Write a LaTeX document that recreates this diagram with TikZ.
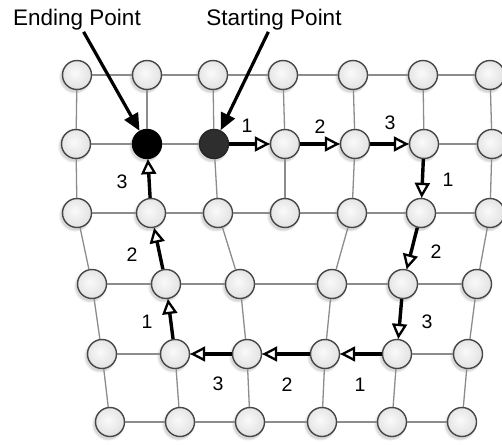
\documentclass[tikz,border=0pt]{standalone}
\usepackage{fontspec}
\setmainfont{Liberation Sans}
\usetikzlibrary{arrows.meta,shadows}
\pgfdeclareradialshading{ballgray}{\pgfpoint{-4bp}{4bp}}{color(0bp)=(gray!4); color(20bp)=(gray!18); color(44bp)=(gray!36); color(50bp)=(gray!40)}
\begin{document}
\begin{tikzpicture}[x=1pt,y=-1pt,
  nodebase/.style={circle, minimum size=29pt, inner sep=0pt, line width=1.4pt,
    circular drop shadow={shadow xshift=-1.8pt, shadow yshift=-1.8pt, shadow scale=1.15, opacity=0.3}},
  mesh/.style={nodebase, draw=black!72, shade, shading=ballgray},
  endpt/.style={nodebase, draw=black, fill=black},
  startpt/.style={nodebase, draw=black!85, fill=black!82},
  gridline/.style={draw=black!45, line width=1.3pt},
  pathline/.style={draw=black, line width=3.4pt,
    -{Triangle[length=15pt,width=15pt,fill=white,line width=2.3pt]}},
  pointer/.style={draw=black, line width=3.2pt, -{Triangle[length=17pt,width=15pt]}},
  steplbl/.style={inner sep=0pt, font=\fontsize{19.5}{20}\selectfont},
  titlelbl/.style={inner sep=1pt, anchor=base, font=\fontsize{22.5}{24}\selectfont}]
\fill[white] (0,0) rectangle (502,444);
\useasboundingbox (0,0) rectangle (502,444);
% nodes
\foreach \x [count=\c from 0] in {77,147,213,283,353,423,490}
  \node[mesh] (n0-\c) at (\x,75) {};
\node[mesh] (n1-0) at (76,144) {};
\node[endpt] (n1-1) at (147,144) {};
\node[startpt] (n1-2) at (214,144) {};
\foreach \c/\x in {3/285,4/355,5/424,6/492}
  \node[mesh] (n1-\c) at (\x,144) {};
\foreach \x [count=\c from 0] in {77,151,218,285,352,421,490}
  \node[mesh] (n2-\c) at (\x,213) {};
\foreach \c/\x in {0/92,1/166,2/240,4/332,5/403,6/477}
  \node[mesh] (n3-\c) at (\x,284) {};
\foreach \c/\x in {0/102,1/175,2/247,4/325,5/397,6/468}
  \node[mesh] (n4-\c) at (\x,354) {};
\foreach \c/\x in {0/110,1/180,2/250,4/322,5/392,6/462}
  \node[mesh] (n5-\c) at (\x,422) {};
% grid lines
\foreach \r in {0,1,2}
  \foreach \c/\d in {0/1,1/2,2/3,3/4,4/5,5/6}
    \draw[gridline] (n\r-\c) -- (n\r-\d);
\foreach \r in {3,4,5}
  \foreach \c/\d in {0/1,1/2,2/4,4/5,5/6}
    \draw[gridline] (n\r-\c) -- (n\r-\d);
\foreach \c in {0,...,6} {
  \draw[gridline] (n0-\c) -- (n1-\c);
  \draw[gridline] (n1-\c) -- (n2-\c);
}
\foreach \c in {0,1,2,4,5,6} {
  \draw[gridline] (n2-\c) -- (n3-\c);
  \draw[gridline] (n3-\c) -- (n4-\c);
  \draw[gridline] (n4-\c) -- (n5-\c);
}
% path
\draw[pathline] (n1-2) -- (n1-3);
\draw[pathline] (n1-3) -- (n1-4);
\draw[pathline] (n1-4) -- (n1-5);
\draw[pathline] (n1-5) -- (n2-5);
\draw[pathline] (n2-5) -- (n3-5);
\draw[pathline] (n3-5) -- (n4-5);
\draw[pathline] (n4-5) -- (n4-4);
\draw[pathline] (n4-4) -- (n4-2);
\draw[pathline] (n4-2) -- (n4-1);
\draw[pathline] (n4-1) -- (n3-1);
\draw[pathline] (n3-1) -- (n2-1);
\draw[pathline] (n2-1) -- (n1-1);
% step labels
\node[steplbl] (s1) at (247,126) {1};
\node[steplbl] (s2) at (320,127) {2};
\node[steplbl] (s3) at (390,123) {3};
\node[steplbl] (s4) at (448,180) {1};
\node[steplbl] (s5) at (436,252) {2};
\node[steplbl] (s6) at (427,322) {3};
\node[steplbl] (s7) at (360,385) {1};
\node[steplbl] (s8) at (287,385) {2};
\node[steplbl] (s9) at (218,384) {3};
\node[steplbl] (s10) at (147,322) {1};
\node[steplbl] (s11) at (132,255) {2};
\node[steplbl] (s12) at (122,182) {3};
% titles
\node[titlelbl] (endlbl) at (77,26) {Ending Point};
\node[titlelbl] (startlbl) at (274,26) {Starting Point};
\draw[pointer] (endlbl) -- (n1-1);
\draw[pointer] (startlbl) -- (n1-2);
\end{tikzpicture}
\end{document}
